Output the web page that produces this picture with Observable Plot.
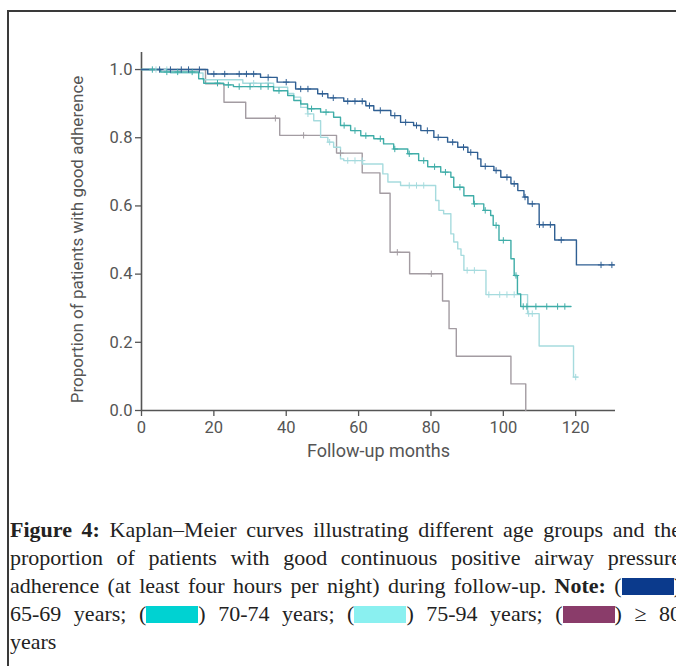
<!DOCTYPE html>
<html>
<head>
<meta charset="utf-8">
<script src="https://cdn.jsdelivr.net/npm/d3@7"></script>
<script src="https://cdn.jsdelivr.net/npm/@observablehq/plot@0.6"></script>
<style>
  html, body { margin: 0; padding: 0; background: #fff; overflow: hidden; }
  body { position: relative; width: 676px; height: 666px; }
  #box { position: absolute; left: 7px; top: 10px; width: 800px; height: 800px;
         border-left: 2px solid #3a3a3a; border-top: 2px solid #3a3a3a; }
  #chart { position: absolute; left: 0; top: 0; }
  #caption { position: absolute; left: 10px; top: 516px; width: 671px;
             font-family: "Liberation Serif", "Times New Roman", serif; font-size: 22px;
             color: #222; line-height: 28px; }
  #caption .ln { white-space: nowrap; text-align: justify; text-align-last: justify; }
  #caption .last { text-align: left; text-align-last: left; }
  .sw { display: inline-block; width: 52px; height: 17px; vertical-align: -2px; }
</style>
</head>
<body>
<div id="box"></div>
<div id="chart"></div>
<div id="caption"></div>
<script>
// ---- data ----
const groups = ["65-69 years", "70-74 years", "75-94 years", "≥ 80 years"];
const lineColors = ["#2f5f93", "#3fada8", "#a6dbde", "#a39ca2"];
const swatchColors = ["#0b3a8c", "#00d2d2", "#8af0f0", "#8a3c6a"];
const xTicks = [0, 20, 40, 60, 80, 100, 120];
const yTicks = [0, 0.2, 0.4, 0.6, 0.8, 1.0];
const xLabel = "Follow-up months";
const yLabel = "Proportion of patients with good adherence";

const g65Months = [0, 18.3, 32.9, 37.5, 42.6, 48.7, 51.5, 55.9, 62.0, 64.2, 68.9, 71.6, 75.2, 77.2, 80.8, 84.6, 87.4, 90.2, 92.9, 93.8, 97.4, 99.3, 102.1, 104.0, 105.7, 106.8, 109.9, 114.2, 120.2, 130.6];
const g65Surv   = [1.0, 0.987, 0.977, 0.963, 0.943, 0.929, 0.917, 0.907, 0.894, 0.880, 0.865, 0.845, 0.836, 0.821, 0.801, 0.787, 0.772, 0.757, 0.738, 0.716, 0.704, 0.684, 0.665, 0.645, 0.626, 0.606, 0.545, 0.500, 0.427, 0.427];
const g65Censor = [5, 8, 11, 13, 16, 20, 23, 27, 29, 31, 35, 40, 44, 46, 50, 53, 57, 59, 61, 63, 66, 70, 73, 76, 79, 82, 86, 89, 91, 95, 98, 101, 103, 106, 108, 110, 111, 113, 116, 127, 130];

const g70Months = [0, 5.3, 15.8, 17.2, 22.7, 25.4, 36.5, 40.4, 42.1, 44.0, 45.9, 49.5, 53.1, 55.0, 57.8, 60.6, 64.2, 66.9, 69.7, 73.6, 76.6, 79.1, 82.7, 85.5, 86.3, 89.1, 91.8, 94.6, 96.5, 97.2, 98.8, 102.1, 103.0, 103.9, 104.8, 118.7];
const g70Surv   = [1.0, 0.993, 0.973, 0.960, 0.955, 0.950, 0.938, 0.924, 0.909, 0.899, 0.885, 0.875, 0.860, 0.836, 0.821, 0.806, 0.797, 0.782, 0.767, 0.753, 0.733, 0.715, 0.699, 0.684, 0.655, 0.630, 0.606, 0.587, 0.572, 0.543, 0.499, 0.445, 0.396, 0.342, 0.305, 0.305];
const g70Censor = [3, 7, 10, 14, 21, 24, 27, 30, 33, 35, 38, 47, 51, 56, 59, 62, 66, 70, 74, 78, 81, 84, 88, 92, 95, 98, 100, 103.5, 105.5, 106.5, 109, 112, 115, 117];

const g75Months = [0, 8, 17, 28, 36.5, 40.4, 42.1, 44.0, 45.9, 47.6, 49.5, 51.5, 53.1, 55.0, 55.9, 61.1, 66.7, 68.1, 71.6, 81.3, 82.2, 83.5, 85.5, 86.3, 87.4, 88.3, 89.1, 95.2, 106.7, 109.9, 119.4, 120.5];
const g75Surv   = [1.0, 0.99, 0.97, 0.96, 0.948, 0.93, 0.919, 0.889, 0.870, 0.85, 0.801, 0.787, 0.772, 0.738, 0.733, 0.723, 0.694, 0.670, 0.660, 0.616, 0.587, 0.577, 0.518, 0.494, 0.474, 0.455, 0.411, 0.340, 0.284, 0.189, 0.098, 0.098];
const g75Censor = [4, 7, 31, 35, 46, 52, 57, 59, 61, 74, 76, 78, 90, 92, 96, 99, 101, 103, 107, 108, 120];

const g80Months = [0, 17.7, 22.8, 28.8, 38.2, 53.9, 61.0, 65.9, 68.7, 74.1, 83.2, 85.0, 87.0, 102.1, 106.2];
const g80Surv   = [1.0, 0.958, 0.904, 0.857, 0.807, 0.755, 0.697, 0.637, 0.464, 0.401, 0.321, 0.240, 0.159, 0.078, 0.0];
const g80Censor = [37, 44.8, 55, 70.7, 80.1];

// ---- tables built from the arrays ----
const series = [
  [groups[0], g65Months, g65Surv, g65Censor],
  [groups[1], g70Months, g70Surv, g70Censor],
  [groups[2], g75Months, g75Surv, g75Censor],
  [groups[3], g80Months, g80Surv, g80Censor]
];
const steps = [], censors = [];
for (const [g, ts, ss, cs] of series) {
  ts.forEach((t, i) => steps.push({group: g, t, s: ss[i]}));
  for (const c of cs) {
    const i = d3.bisectRight(ts, c) - 1;
    censors.push({group: g, t: c, s: ss[Math.max(0, i)]});
  }
}
const drawOrder = [groups[3], groups[2], groups[1], groups[0]];
const ordered = (rows) => drawOrder.flatMap(g => rows.filter(r => r.group === g));

const chart = Plot.plot({
  width: 676, height: 470,
  marginLeft: 141, marginRight: 61, marginTop: 52, marginBottom: 60,
  style: {fontFamily: "Roboto, sans-serif", fontSize: "16.5px", color: "#555", background: "transparent", overflow: "visible"},
  x: {domain: [0, 131]},
  y: {domain: [0, 1.05]},
  color: {domain: groups, range: lineColors},
  marks: [
    Plot.axisX({ticks: xTicks, tickSize: 6, tickPadding: 5, stroke: "#555", strokeWidth: 1.3, fill: "#555", fontSize: 16.5, label: null}),
    Plot.axisX({ticks: [], fill: "#555", fontSize: 18,
      label: xLabel, labelAnchor: "center", labelOffset: 46, labelArrow: "none"}),
    Plot.axisY({ticks: yTicks, tickFormat: ".1f", tickSize: 6, tickPadding: 3, stroke: "#555", strokeWidth: 1.3, fill: "#555", fontSize: 16.5, label: null}),
    Plot.text([yLabel], {frameAnchor: "left", rotate: -90, dx: -64, dy: 8, fill: "#555", fontSize: 17, textAnchor: "middle", lineAnchor: "middle"}),
    Plot.ruleX([0], {stroke: "#555", strokeWidth: 1.6}),
    Plot.ruleY([0], {stroke: "#555", strokeWidth: 1.6}),
    Plot.line(ordered(steps), {x: "t", y: "s", z: "group", stroke: "group", curve: "step-after", strokeWidth: 1.4}),
    Plot.dot(ordered(censors), {x: "t", y: "s", stroke: "group", fill: "none", symbol: "plus", r: 2.2, strokeWidth: 1})
  ]
});
document.getElementById("chart").appendChild(chart);

// ---- caption ----
const sw = (i) => `(<span class="sw" style="background:${swatchColors[i]}"></span>)`;
document.getElementById("caption").innerHTML = [
  `<div class="ln"><b>Figure 4:</b> Kaplan–Meier curves illustrating different age groups and the</div>`,
  `<div class="ln">proportion of patients with good continuous positive airway pressure</div>`,
  `<div class="ln">adherence (at least four hours per night) during follow-up. <b>Note:</b> ${sw(0)}</div>`,
  `<div class="ln">${groups[0]}; ${sw(1)} ${groups[1]}; ${sw(2)} ${groups[2]}; ${sw(3)} ≥ 80</div>`,
  `<div class="ln last">years</div>`
].join("");
</script>
</body>
</html>
